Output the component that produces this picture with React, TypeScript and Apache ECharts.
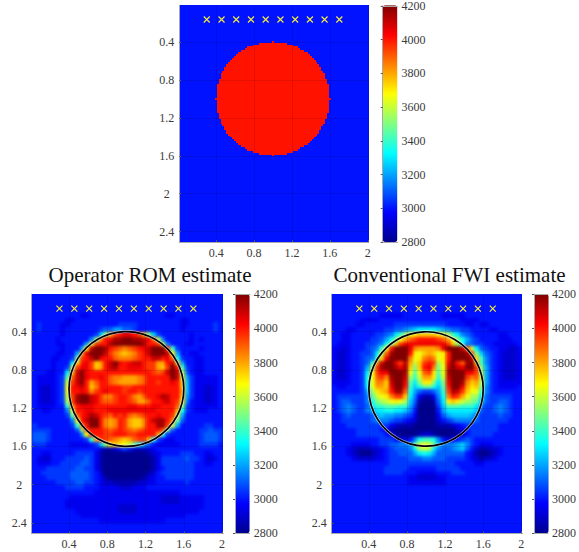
import React, { useEffect, useRef } from "react";
import * as echarts from "echarts";

// Colour levels: each character of a row is one cell, value = 2800 + 50 * index in LEVELS.
const LEVELS = "0123456789abcdefghijklmnopqrs";

const xTicks = [0.4, 0.8, 1.2, 1.6, 2];
const yTicks = [0.4, 0.8, 1.2, 1.6, 2, 2.4];
const sensorX = [0.3, 0.456, 0.611, 0.767, 0.922, 1.078, 1.233, 1.389, 1.544, 1.7];
const sensorDepth = 0.16;
const circleOutline = [[1, 1, 0.6]];

// True model: half width of the disc in 0.02 cells, by row distance from the row through its centre.
const trueHalfWidths = [30, 29, 29, 29, 29, 29, 29, 29, 28, 28, 28, 27, 27, 27, 26, 25, 25, 24, 24, 23, 22, 21, 20, 19, 18, 16, 14, 13, 10, 7, 0];
const trueInside = 4000;
const trueOutside = 3000;

const romRows = [
  "4444444444 4444444444 4444444444 4444444444",
  "4444444444 4444444444 4444444444 4444444444",
  "4444444444 4444444444 4444444444 4444444444",
  "4444444444 4444444444 4444444444 4444444444",
  "4444444444 3344444444 4444444433 4444444444",
  "4444444334 4444444444 4444444444 4334444444",
  "4544443344 4444444455 5544444444 4334444454",
  "4544443444 4444566886 6544444444 4344444454",
  "4444443444 44459eknop ponke95444 4443444444",
  "4444434444 447eloprrs srrqpmf744 4443434444",
  "4444433444 48hnoorsss sssroong74 4433444444",
  "4444443444 8iqssronml mnopqsssnc 5444434444",
  "4444433448 kpsssqnlkj klnoqsssqi 8443344444",
  "444433445e noqspoomll lmnooqqopm b544334444",
  "44443444aj opnjkoqspo pqqonnkkoq j844334444",
  "44443445fn ppnjkoqroo ppponnkjns oc54334444",
  "4443344akq spoooooooo ooooonmnqs qf64334444",
  "4333345dmq spoopomllk kklmooooos qh85333334",
  "4333345gnq sokmoomlkk kklmoonoop oj95333334",
  "4322345hop qojlooooon nooooooooo oj95332234",
  "4322345hoo polnopooon oonooooooo ok95332234",
  "4322345gnr ssqpnllnoo nlkmooprqo oj85332234",
  "4322345fnr ssqpnmmnoo nmkkmoopqo nh74332234",
  "4333344clo pppooooooo ppoooppooo me54333334",
  "44334447ho oppooopppp ppppppoooo kb54333444",
  "44444445dm oprqonmono mlmnoopoon g844444444",
  "444444447i oqssolklon kjjloqrrol d644444444",
  "544444445c lossolklon kjjloorrng 8444445544",
  "5555444446 fnooonmnon mlmnooome6 4444455655",
  "6665444444 7hooonnooo nnooookb54 4444456665",
  "6665444444 45cknnmlkj kmnnkb5433 4444456665",
  "5554444433 33459eijih gda8643333 3444455554",
  "4444444444 4444211245 4212234444 4444444444",
  "4433444445 5553100000 0000123444 4555443344",
  "4322444555 5653100000 0000013555 5565543234",
  "4333445555 6653100000 0000013555 5555443344",
  "4445555556 6553100000 0000013455 5555444444",
  "4455555566 6654200000 0000124555 5555444444",
  "4445555566 6654310000 0001234455 5555444444",
  "4444455556 6554322111 1122334444 4454444444",
  "4444444555 5444333322 2333444444 4444444444",
  "4444444444 4443333333 3333333333 3444444444",
  "4444444433 3333333333 3333333222 2333334444",
  "4444444333 3333333333 3333333222 2333334444",
  "4444444333 3333333322 2233333333 3333334444",
  "4444444443 3333333322 2233333333 3333344444",
  "4444444444 3333333333 3333333333 3344444444",
  "4444444444 4444333333 3333333344 4444444444",
  "4444444444 4444444444 4444444444 4444444444",
  "4444444444 4444444444 4444444444 4444444444",
];

const fwiRows = [
  "4444444444 4444444444 4444444444 4444444444",
  "4444444444 4444444444 4444444444 4444444444",
  "4444444444 4444444444 4444444444 4444444444",
  "4444444444 4444444444 4444444444 4444444444",
  "4444444444 3333344444 4443333344 4444444444",
  "4444443333 4444444444 4444444333 3444444444",
  "4444433444 4445555555 5555444433 4334444444",
  "4443344444 45566789aa aa98766554 4443344444",
  "4433444445 567acfhijj jjihfca765 4444433444",
  "4433444455 68behkmnoo oonmkheb86 5444433344",
  "4333444556 7bfjnppppp ppppnjfb76 5544333334",
  "3323444567 chosssplkk kklpsssqmg a654433223",
  "322344556a fmrsssoihj kjhiosssrn e965432223",
  "322344567c jpsssslhil mlhiossssq jc75432223",
  "32234456ck qsspnqkgjn onfipsomrs kc75432223",
  "32234458fn rssrprjejo plehqsqpss ne85432223",
  "3223445ahn ppsssrhdhm nidhrssspp nf85432223",
  "3223445bhm nlrssqfcgk kicgqsssnl mg85432223",
  "3333445bhl ljqsspdaei ieaepssrlj kf85433333",
  "4334445ahk kjpssoc9bd db9dosspki je75433334",
  "44444458fi jkorrmb865 568cnrqnjh hc75444444",
  "45555557dg hilnnja731 137blonkhf fa65555544",
  "45665557be fghihf9610 016aijigfe d965566544",
  "45676556ac cdddcc8500 0059dddccc a755676544",
  "456765578a abbaa97400 0048aaaaaa 9655676544",
  "4456555568 9887765300 0036899998 7555565544",
  "4455555567 7765543200 0024567777 6555555444",
  "4445555555 5532111000 0011123455 5555544444",
  "4444455555 4210000000 0000001245 5555544444",
  "4444455555 5421000012 2100001245 5555444444",
  "4444444444 55543247bc cb74234565 4444444444",
  "4444333344 5566778dgh gd97778975 4333444444",
  "4443211122 3456667afg fa76678964 2112234444",
  "4443210012 34556668ab a866666643 1001234444",
  "4444322223 3455556667 7666555543 2122344444",
  "4444444444 4455555555 5555554444 3344444444",
  "4444444444 4555554444 4455555444 4444444444",
  "4444444444 4555544433 3344455544 4444444444",
  "4444444444 4444443322 2233444444 4444444444",
  "4444444444 4444443333 3333444444 4444444444",
  "4444444444 4444444444 4444444444 4444444444",
  "4444444444 4444444444 4444444444 4444444444",
  "4444444444 4444444444 4444444444 4444444444",
  "4444444444 4444444444 4444444444 4444444444",
  "4444444444 4444444444 4444444444 4444444444",
  "4444444444 4444444444 4444444444 4444444444",
  "4444444444 4444444444 4444444444 4444444444",
  "4444444444 4444444444 4444444444 4444444444",
  "4444444444 4444444444 4444444444 4444444444",
  "4444444444 4444444444 4444444444 4444444444",
];

const panels = [
  { left: 179.3, top: 5.3, width: 189.4, height: 236.7, barLeft: 382.7 },
  { left: 31.7, top: 294.3, width: 191.3, height: 239, barLeft: 235 },
  { left: 331.7, top: 294.3, width: 190.6, height: 239, barLeft: 534 },
];

const FONT = "'Liberation Serif', serif";
// jet, with its stops on equal steps so that the library's even spacing reproduces the ramp
const JET = ["#00008f", "#0000ff", "#0080ff", "#00ffff", "#80ff80", "#ffff00", "#ff8000", "#ff0000", "#800000"];
const FRAME = "#a8a8a8";
const TEXT = "#3a3a3a";

function decodeRows(rows: string[]) {
  const out: number[][] = [];
  rows.forEach((r, i) => {
    Array.from(r.replace(/ /g, "")).slice(0, 40).forEach((c, j) => {
      out.push([j, i, 2800 + 50 * LEVELS.indexOf(c)]);
    });
  });
  return out;
}

function trueCells() {
  const out: number[][] = [];
  for (let k = 0; k < 125; k++) {
    const hw = trueHalfWidths[Math.abs(k + 1 - 50)];
    for (let j = 0; j < 100; j++) {
      const inside = hw !== undefined && Math.abs(j + 1 - 50) <= hw;
      out.push([j, k, inside ? trueInside : trueOutside]);
    }
  }
  return out;
}

const indexList = (n: number) => Array.from({ length: n }, (_, i) => i);

function heatOption(cells: number[][], cols: number, rows: number) {
  return {
    animation: false,
    grid: { left: 0, top: 0, right: 0, bottom: 0 },
    xAxis: { type: "category", data: indexList(cols), show: false },
    yAxis: { type: "category", data: indexList(rows), show: false, inverse: true },
    visualMap: { type: "continuous", show: false, min: 2800, max: 4200, inRange: { color: JET } },
    series: [{
      type: "heatmap", data: cells, progressive: 0, silent: true,
      itemStyle: { borderWidth: 0, borderColor: "transparent" }, emphasis: { disabled: true },
    }],
  };
}

function buildOption() {
  const grid: any[] = [];
  const xAxis: any[] = [];
  const yAxis: any[] = [];
  const series: any[] = [];
  const visualMap: any[] = [];
  const tickLabel = { color: TEXT, fontFamily: FONT, fontSize: 12, hideOverlap: false, formatter: (v: number) => String(v) };
  const hidden = { axisTick: { show: false }, axisLabel: { show: false }, splitLine: { show: false } };

  panels.forEach((p, k) => {
    const g = grid.length;
    grid.push({ left: p.left, top: p.top, width: p.width, height: p.height });
    const frameLine = { show: true, lineStyle: { color: FRAME, width: 1 } };
    xAxis.push({ type: "value", gridIndex: g, position: "top", min: 0, max: 1, z: 6, axisLine: frameLine, ...hidden });
    yAxis.push({ type: "value", gridIndex: g, position: "right", min: 0, max: 1, z: 6, axisLine: frameLine, ...hidden });
    const xVal = xAxis.length;
    xAxis.push({
      type: "value", gridIndex: g, position: "bottom", min: 0.01, max: 2.01, z: 6,
      axisLine: frameLine,
      axisTick: { show: true, inside: true, length: 2, customValues: xTicks, lineStyle: { color: "#555" } },
      axisLabel: { show: true, customValues: xTicks, margin: 5, ...tickLabel },
      splitLine: { show: true, lineStyle: { color: "rgba(0,0,0,0.1)", width: 1 } },
    });
    const yVal = yAxis.length;
    yAxis.push({
      type: "value", gridIndex: g, position: "left", inverse: true, min: 0.01, max: 2.51, z: 6,
      axisLine: frameLine,
      axisTick: { show: true, inside: true, length: 2, customValues: yTicks, lineStyle: { color: "#555" } },
      axisLabel: { show: true, customValues: yTicks, margin: 12.5, align: "center", ...tickLabel },
      splitLine: { show: true, lineStyle: { color: "rgba(0,0,0,0.1)", width: 1 } },
    });

    if (k > 0) {
      series.push({
        type: "custom", coordinateSystem: "cartesian2d", xAxisIndex: xVal, yAxisIndex: yVal,
        data: circleOutline, silent: true, z: 3, clip: false,
        renderItem: (_: any, api: any) => {
          const c = api.coord([api.value(0), api.value(1)]);
          const r = api.size([api.value(2), 0])[0];
          return {
            type: "group",
            children: [
              { type: "circle", shape: { cx: c[0], cy: c[1], r }, style: { fill: "none", stroke: "rgba(255,255,255,0.6)", lineWidth: 3 } },
              { type: "circle", shape: { cx: c[0], cy: c[1], r }, style: { fill: "none", stroke: "#000", lineWidth: 1.7 } },
            ],
          };
        },
      });
    }
    series.push({
      type: "scatter", coordinateSystem: "cartesian2d", xAxisIndex: xVal, yAxisIndex: yVal,
      data: sensorX.map((x) => [x, sensorDepth]), silent: true, z: 4,
      symbol: "path://M0 0L10 10M0 10L10 0", symbolSize: 6,
      itemStyle: { color: "none", borderColor: "#f2ea3c", borderWidth: 1.2, opacity: 1 },
    });

    visualMap.push({
      type: "continuous", seriesIndex: [], min: 2800, max: 4200, calculable: false, hoverLink: false,
      left: p.barLeft, top: p.top, itemWidth: 14.7, itemHeight: p.height, padding: 0, orient: "vertical",
      inRange: { color: JET }, show: true,
    });

    const b = grid.length;
    grid.push({ left: p.barLeft, top: p.top, width: 14.7, height: p.height });
    xAxis.push({ type: "value", gridIndex: b, position: "bottom", min: 0, max: 1, z: 6, axisLine: frameLine, ...hidden });
    xAxis.push({ type: "value", gridIndex: b, position: "top", min: 0, max: 1, z: 6, axisLine: frameLine, ...hidden });
    yAxis.push({ type: "value", gridIndex: b, position: "left", min: 2800, max: 4200, z: 6, axisLine: frameLine, ...hidden });
    yAxis.push({
      type: "value", gridIndex: b, position: "right", min: 2800, max: 4200, interval: 200, z: 6,
      axisLine: frameLine,
      axisTick: { show: true, inside: true, length: 2, lineStyle: { color: "#555" } },
      axisLabel: { show: true, margin: 4, ...tickLabel },
      splitLine: { show: false },
    });
  });

  return {
    animation: false,
    title: [
      { text: "Operator ROM estimate", left: 145, top: 259, textAlign: "center", textStyle: { fontFamily: FONT, fontSize: 21, fontWeight: "normal", color: "#111" } },
      { text: "Conventional FWI estimate", left: 444.5, top: 259, textAlign: "center", textStyle: { fontFamily: FONT, fontSize: 21, fontWeight: "normal", color: "#111" } },
    ],
    grid, xAxis, yAxis, series, visualMap,
  };
}

function HeatPanel(props: { cells: number[][]; cols: number; rows: number; left: number; top: number; width: number; height: number; blur: number }) {
  const { cells, cols, rows, left, top, width, height, blur } = props;
  const ref = useRef<HTMLDivElement>(null);
  useEffect(() => {
    const chart = echarts.init(ref.current!, undefined, { renderer: "svg" });
    chart.setOption(heatOption(cells, cols, rows) as any);
    return () => chart.dispose();
  }, [cells, cols, rows]);
  return (
    <div style={{ position: "absolute", left, top, width, height, overflow: "hidden", background: "#0012ff" }}>
      <div ref={ref} style={{ width, height, shapeRendering: "crispEdges", filter: blur ? `blur(${blur}px)` : undefined }} />
    </div>
  );
}

const trueData = trueCells();
const romData = decodeRows(romRows);
const fwiData = decodeRows(fwiRows);

export default function App() {
  const ref = useRef<HTMLDivElement>(null);
  useEffect(() => {
    const chart = echarts.init(ref.current!, undefined, { renderer: "svg" });
    chart.setOption(buildOption() as any);
    return () => chart.dispose();
  }, []);
  return (
    <div style={{ position: "absolute", left: 0, top: 0, width: 579, height: 552 }}>
      <HeatPanel cells={trueData} cols={100} rows={125} left={179} top={5} width={190} height={237} blur={0} />
      <HeatPanel cells={romData} cols={40} rows={50} left={32} top={294} width={191} height={239} blur={1.5} />
      <HeatPanel cells={fwiData} cols={40} rows={50} left={332} top={294} width={190} height={239} blur={1.5} />
      <div ref={ref} style={{ position: "absolute", left: 0, top: 0, width: 579, height: 552 }} />
    </div>
  );
}
